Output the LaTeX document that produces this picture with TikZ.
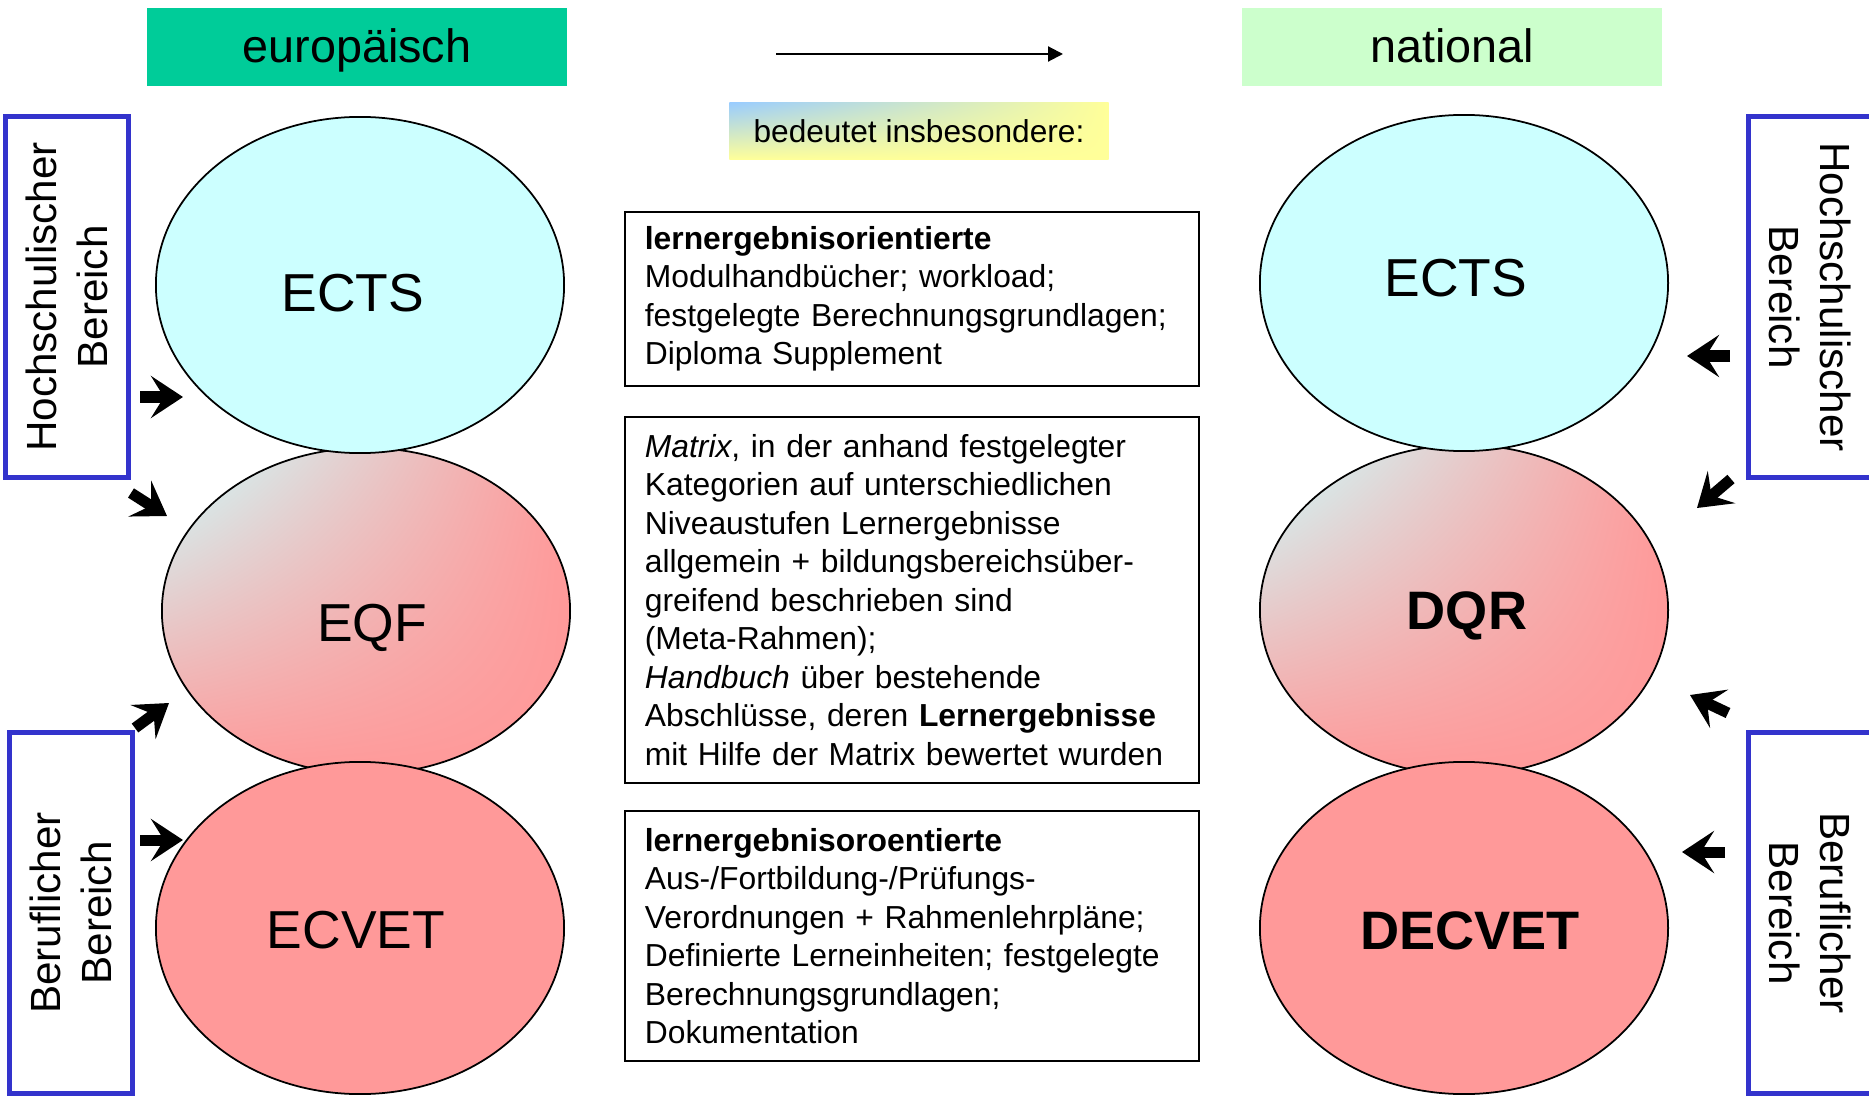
\documentclass[tikz,border=0pt]{standalone}
\usepackage{fontspec}
\setmainfont{Liberation Sans}
\usetikzlibrary{positioning,shapes.geometric,arrows.meta,shadings}
\definecolor{euroGreen}{HTML}{00CC99}
\definecolor{natGreen}{HTML}{CCFFCC}
\definecolor{lightCyan}{HTML}{CCFFFF}
\definecolor{salmon}{HTML}{FF9999}
\definecolor{frameBlue}{HTML}{3333CC}
\definecolor{skyBlue}{HTML}{99CCFF}
\definecolor{paleYellow}{HTML}{FFFF99}
\tikzset{
	mixfill/.style={upper left=lightCyan, upper right=salmon, lower left=salmon, lower right=salmon}
}

\begin{document}
\begin{tikzpicture}[x=0.01cm, y=-0.01cm]
		\useasboundingbox (0,0) rectangle (1869,1097);
		% headers
		\begin{scope}[every node/.style={minimum width=4.2cm, minimum height=0.78cm, inner sep=0pt, text height=9.6pt, text depth=0.5pt, font=\fontsize{13.3}{16}\selectfont}]
			\node[fill=euroGreen] (euro) at (357,47) {europäisch};
			\node[fill=natGreen] (nat) at (1452,47) {national};
		\end{scope}
		\draw[line width=0.6pt, -{Triangle[length=0.15cm, width=0.15cm]}] (776,54) -- (1063,54);
		\node[minimum width=3.79cm, minimum height=0.57cm, inner sep=0pt, upper left=skyBlue, upper right=paleYellow, lower left=paleYellow, lower right=paleYellow, font=\fontsize{9}{11}\selectfont] (means) at (919,131) {bedeutet insbesondere:};
		% ellipses
		\begin{scope}[every node/.style={ellipse, draw, line width=0.5pt, minimum width=4.08cm, inner sep=0pt}]
			\node[minimum height=3.26cm, mixfill] (eqf) at (366,611) {};
			\node[minimum height=3.36cm, fill=lightCyan] (ectsEU) at (360,285) {};
			\node[minimum height=3.32cm, fill=salmon] (ecvet) at (360,928) {};
			\node[minimum height=3.3cm, mixfill] (dqr) at (1464,610) {};
			\node[minimum height=3.36cm, fill=lightCyan] (ectsDE) at (1464,283) {};
			\node[minimum height=3.32cm, fill=salmon] (decvet) at (1464,928) {};
		\end{scope}
		\begin{scope}[every node/.style={inner sep=0pt, font=\fontsize{15.2}{18}\selectfont}]
			\node (eqfLabel) at ([xshift=0.06cm, yshift=-0.17cm]eqf.center) {EQF};
			\node (ectsEULabel) at ([xshift=-0.07cm, yshift=-0.08cm]ectsEU.center) {ECTS};
			\node (ecvetLabel) at ([xshift=-0.04cm, yshift=-0.02cm]ecvet.center) {ECVET};
			\node[font=\fontsize{15.4}{18}\selectfont\bfseries] (dqrLabel) at ([xshift=0.03cm, yshift=-0.06cm]dqr.center) {DQR};
			\node (ectsDELabel) at ([xshift=-0.08cm, yshift=0.05cm]ectsDE.center) {ECTS};
			\node[font=\fontsize{15.4}{18}\selectfont\bfseries] (decvetLabel) at ([xshift=0.06cm, yshift=-0.03cm]decvet.center) {DECVET};
		\end{scope}
		% frames
		\begin{scope}[every node/.style={draw=frameBlue, line width=0.05cm, inner sep=0pt, minimum width=3.6cm, minimum height=1.22cm, align=center, font=\fontsize{12}{14.5}\selectfont}]
			\node[rotate=90] (hsLeft) at (67,297) {Hochschulischer\\Bereich};
			\node[rotate=90] (bbLeft) at (71,913) {Beruflicher\\Bereich};
			\node[rotate=-90] (hsRight) at (1810,297) {Hochschulischer\\Bereich};
			\node[rotate=-90] (bbRight) at (1810,913) {Beruflicher\\Bereich};
		\end{scope}
		% text boxes
		\begin{scope}[every node/.style={draw, line width=0.6pt, align=left, text width=5.34cm, inner xsep=0.2cm, inner ysep=0pt, font=\fontsize{9.05}{10.95}\selectfont}]
			\node[minimum height=1.74cm] (ectsText) at (912,299) {\textbf{lernergebnisorientierte}\\
				Modulhandbücher; workload;\\
				festgelegte Berechnungsgrundlagen;\\
				Diploma Supplement};
			\node[minimum height=3.66cm] (eqfText) at (912,600) {\textit{Matrix}, in der anhand festgelegter\\
				Kategorien auf unterschiedlichen\\
				Niveaustufen Lernergebnisse\\
				allgemein + bildungsbereichsüber-\\
				greifend beschrieben sind\\
				(Meta-Rahmen);\\
				\textit{Handbuch} über bestehende\\
				Abschlüsse, deren \textbf{Lernergebnisse}\\
				mit Hilfe der Matrix bewertet wurden};
			\node[minimum height=2.5cm] (ecvetText) at (912,936) {\textbf{lernergebnisoroentierte}\\
				Aus-/Fortbildung-/Prüfungs-\\
				Verordnungen + Rahmenlehrpläne;\\
				Definierte Lerneinheiten; festgelegte\\
				Berechnungsgrundlagen;\\
				Dokumentation};
		\end{scope}
		% fat arrows
		\begin{scope}[line width=0.11cm, -{Stealth[length=0.32cm, width=0.42cm, inset=0.13cm]}]
			\draw (140,397) -- (183,397);
			\draw (131,493) -- (167,516);
			\draw (135,728) -- (169,703);
			\draw (140,840) -- (183,840);
			\draw (1730,356) -- (1687,356);
			\draw (1731,479) -- (1697,508);
			\draw (1728,713) -- (1690,695);
			\draw (1725,852) -- (1682,852);
		\end{scope}
\end{tikzpicture}
\end{document}
